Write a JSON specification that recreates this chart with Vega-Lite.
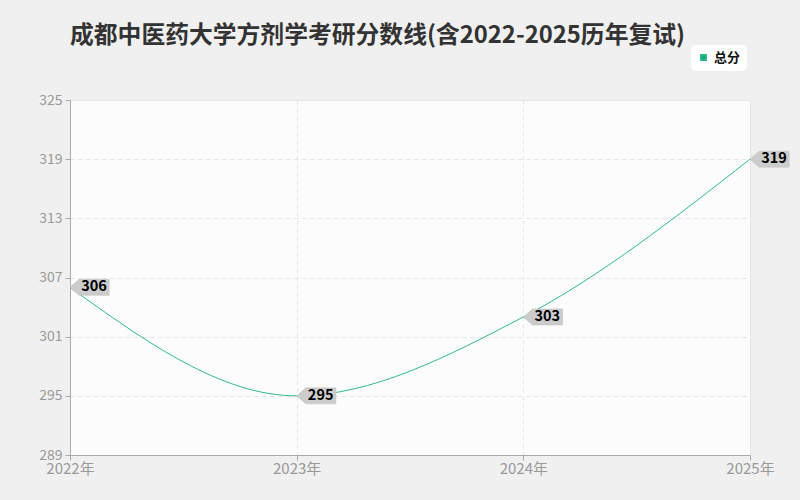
{
  "$schema": "https://vega.github.io/schema/vega-lite/v6.json",
  "autosize": "none",
  "width": 680,
  "height": 355,
  "padding": {"left": 70, "top": 100, "right": 50, "bottom": 45},
  "background": "#f0f0f0",
  "title": {
    "text": "成都中医药大学方剂学考研分数线(含2022-2025历年复试)",
    "anchor": "start",
    "frame": "group",
    "offset": -3,
    "font": "Noto Sans CJK SC",
    "fontSize": 23.8,
    "fontWeight": "bold",
    "color": "#333333"
  },
  "config": {
    "view": {"fill": "#fcfcfc", "stroke": "#e6e6e6"},
    "font": "Noto Sans CJK SC"
  },
  "data": {
    "values": [
      {"year": "2022年", "score": 306, "series": "总分"},
      {"year": "2023年", "score": 295, "series": "总分"},
      {"year": "2024年", "score": 303, "series": "总分"},
      {"year": "2025年", "score": 319, "series": "总分"}
    ]
  },
  "encoding": {
    "x": {
      "field": "year",
      "type": "ordinal",
      "sort": null,
      "scale": {"type": "point", "padding": 0},
      "axis": {
        "title": null,
        "labelAngle": 0,
        "labelColor": "#999999",
        "labelFontSize": 15,
        "labelPadding": 1,
        "domainColor": "#aaaaaa",
        "tickColor": "#aaaaaa",
        "tickSize": 5,
        "grid": true,
        "gridColor": "#e3e3e3",
        "gridDash": [4, 4]
      }
    },
    "y": {
      "field": "score",
      "type": "quantitative",
      "scale": {"domain": [289, 325], "nice": false, "zero": false},
      "axis": {
        "title": null,
        "values": [289, 295, 301, 307, 313, 319, 325],
        "labelColor": "#999999",
        "labelFontSize": 14,
        "labelPadding": 3,
        "domainColor": "#aaaaaa",
        "tickColor": "#aaaaaa",
        "tickSize": 5,
        "gridColor": "#e3e3e3",
        "gridDash": [4, 4]
      }
    }
  },
  "layer": [
    {
      "mark": {"type": "line", "interpolate": "monotone", "strokeWidth": 1},
      "encoding": {
        "color": {
          "field": "series",
          "type": "nominal",
          "scale": {"range": ["#2fba8c"]},
          "legend": {
            "title": null,
            "orient": "none",
            "legendX": 621,
            "legendY": -55,
            "fillColor": "#ffffff",
            "cornerRadius": 5,
            "padding": 6,
            "symbolType": "square",
            "symbolSize": 30,
            "symbolFillColor": "#1aa97a",
            "symbolStrokeColor": "#1aa97a",
            "labelFontSize": 13,
            "labelFontWeight": "bold",
            "labelColor": "#111111"
          }
        }
      }
    },
    {
      "mark": {
        "type": "point",
        "shape": "M0,0L1.15,-1L4.9,-1L4.9,1L1.15,1Z",
        "size": 256,
        "filled": true,
        "fill": "#cccccc",
        "stroke": "#bdbdbd",
        "strokeWidth": 0.5,
        "opacity": 1
      }
    },
    {
      "mark": {
        "type": "text",
        "dx": 24,
        "align": "center",
        "baseline": "middle",
        "fontSize": 14.5,
        "fontWeight": "bold",
        "color": "#000000"
      },
      "encoding": {"text": {"field": "score", "type": "quantitative"}}
    }
  ]
}
